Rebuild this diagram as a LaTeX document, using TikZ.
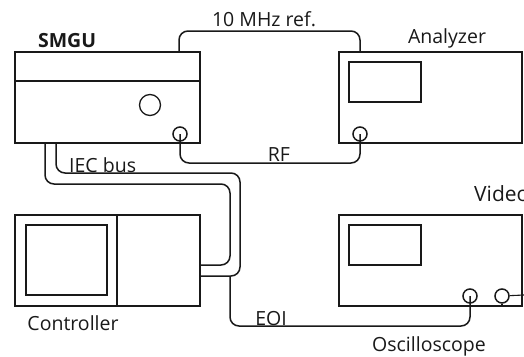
\documentclass[tikz,border=0pt]{standalone}
\usepackage{fontspec}
\setmainfont{Open Sans}
\begin{document}
\begin{tikzpicture}[x=1pt,y=-1pt,
  unit/.style={draw=black!90,line width=1.4pt,fill=none},
  screen/.style={draw=black!90,line width=1.6pt},
  port/.style={circle,draw=black!90,line width=1.5pt,minimum size=14pt,inner sep=0pt},
  knob/.style={circle,draw=black!90,line width=1.3pt,minimum size=21pt,inner sep=0pt},
  cable/.style={draw=black!90,line width=1.5pt,rounded corners=9pt},
  lab/.style={font=\fontsize{19.5}{22}\selectfont,inner sep=0pt,text=black!90}]
\useasboundingbox (0,0) rectangle (524,356);
\begin{scope}
\clip (0,0) rectangle (524,356);
% units
\draw[unit] (15,52) rectangle (200,143);
\draw[unit] (15,81) -- (200,81);
\draw[unit] (339,52) rectangle (522,143);
\draw[screen] (349,62) rectangle (421,102);
\draw[unit] (15,215) rectangle (200,306);
\draw[unit] (117,215) -- (117,306);
\draw[screen] (26,225) rectangle (107,295);
\draw[unit] (339,215) rectangle (522,306);
\draw[screen] (349,225) rectangle (421,265);
% round parts
\node[knob] (knob) at (150,105) {};
\node[port] (smguport) at (180,134) {};
\node[port] (anport) at (360,134) {};
\node[port] (scopea) at (470,296) {};
\node[port] (scopeb) at (502,296) {};
% free ends
\coordinate (refa) at (179,52);
\coordinate (refb) at (360,52);
\coordinate (busa) at (45,143);
\coordinate (busb) at (56,143);
\coordinate (cona) at (200,265);
\coordinate (conb) at (200,276);
\coordinate (tap) at (230,276);
\coordinate (vid) at (524,295);
\coordinate (bota) at (502,306);
% connectors
\draw[cable] (refa) -- (179,31) -- (360,31) -- (refb);
\draw[cable] (smguport.center) -- (180,163) -- (360,163) -- (anport.center);
\draw[cable] (busa) -- (45,184) -- (230,184) -- (230,265) -- (cona);
\draw[cable] (busb) -- (56,173) -- (240,173) -- (240,276) -- (conb);
\draw[cable] (tap) -- (230,326) -- (470,326) -- (scopea.center);
\draw[draw=black!90,line width=1.1pt] (scopeb) -- (vid);
\draw[draw=black!90,line width=1.5pt] (scopeb.south) -- (bota);
% labels
\node[lab,font=\fontsize{19.5}{22}\selectfont\bfseries,anchor=base] (smgu) at (67,47) {SMGU};
\node[lab,anchor=base] (ref) at (264,26) {10 MHz ref.};
\node[lab,anchor=base] (an) at (447,43) {Analyzer};
\node[lab,anchor=base west] (iec) at (69,172) {IEC bus};
\node[lab,anchor=base] (rf) at (279,161) {RF};
\node[lab,anchor=base] (ctl) at (73,330) {Controller};
\node[lab,anchor=base west,font=\fontsize{21}{24}\selectfont] (video) at (474,201) {Video};
\node[lab,anchor=base] (eoi) at (271,325) {EOI};
\node[lab,anchor=base] (osc) at (429,351) {Oscilloscope};
\end{scope}
\end{tikzpicture}
\end{document}
